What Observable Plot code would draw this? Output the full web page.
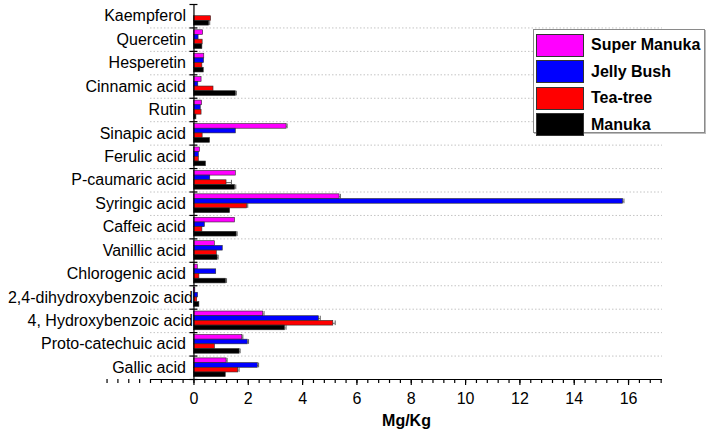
<!DOCTYPE html>
<html>
<head>
<meta charset="utf-8">
<script src="https://cdn.jsdelivr.net/npm/d3@7"></script>
<script src="https://cdn.jsdelivr.net/npm/@observablehq/plot@0.6"></script>
<style>
  body { margin: 0; background: white; font-family: "Liberation Sans", Arial, sans-serif; }
  #wrap { position: relative; width: 709px; height: 433px; }
  g[aria-label="x-axis label"] text { font-weight: bold; }
  #legend { position: absolute; left: 533px; top: 29px; width: 172px; height: 104px;
    border: 1px solid #8a8a8a; background: white; box-sizing: border-box; box-shadow: 1px 1px 0 #bbb; }
  .row { position: absolute; left: 2px; height: 24px; display: flex; align-items: center; }
  .sw { width: 48px; height: 23px; box-sizing: border-box; border: 1px solid #333; margin-right: 7px; }
  .lab { font-weight: bold; font-size: 16px; color: #000; }
</style>
</head>
<body>
<div id="wrap"></div>
<script>
// ---- data ----
const categories = ["Kaempferol", "Quercetin", "Hesperetin", "Cinnamic acid", "Rutin", "Sinapic acid",
  "Ferulic acid", "P-caumaric acid", "Syringic acid", "Caffeic acid", "Vanillic acid", "Chlorogenic acid",
  "2,4-dihydroxybenzoic acid", "4, Hydroxybenzoic acid", "Proto-catechuic acid", "Gallic acid"];
const seriesNames = ["Super Manuka", "Jelly Bush", "Tea-tree", "Manuka"];
const seriesColors = ["#ff00ff", "#0000ff", "#ff0000", "#000000"];
const superManuka = [0, 0.34, 0.38, 0.28, 0.30, 3.41, 0.22, 1.54, 5.36, 1.51, 0.77, 0.14, 0.05, 2.55, 1.78, 1.20];
const jellyBush   = [0, 0.17, 0.37, 0.16, 0.25, 1.54, 0.18, 0.60, 15.8, 0.40, 1.06, 0.82, 0.15, 4.60, 1.98, 2.35];
const teaTree     = [0.63, 0.32, 0.31, 0.72, 0.28, 0.32, 0.18, 1.20, 1.96, 0.31, 0.84, 0.20, 0.12, 5.13, 0.77, 1.63];
const manuka      = [0.56, 0.31, 0.36, 1.54, 0.09, 0.59, 0.44, 1.51, 1.33, 1.57, 0.87, 1.18, 0.20, 3.35, 1.68, 1.17];
const errSuperManuka = [0, 0, 0, 0, 0, 0.02, 0, 0, 0.03, 0, 0, 0, 0, 0.03, 0.02, 0.02];
const errJellyBush   = [0, 0, 0, 0, 0, 0, 0, 0, 0.03, 0, 0, 0, 0, 0.05, 0.03, 0.03];
const errTeaTree     = [0, 0, 0, 0, 0, 0, 0, 0.18, 0.02, 0, 0, 0, 0, 0.07, 0, 0.03];
const errManuka      = [0.02, 0, 0, 0.02, 0, 0, 0, 0.03, 0, 0.02, 0.02, 0.02, 0, 0.04, 0.02, 0];
const xMajorTicks = [0, 2, 4, 6, 8, 10, 12, 14, 16];
const xAxisLabel = "Mg/Kg";

// ---- build table ----
const seriesValues = [superManuka, jellyBush, teaTree, manuka];
const seriesErrs = [errSuperManuka, errJellyBush, errTeaTree, errManuka];
const n = categories.length;
const rows = [];
categories.forEach((c, ci) => {
  seriesNames.forEach((s, si) => {
    const top = n - ci - 0.1 - si * 0.2;
    rows.push({category: c, series: s, value: seriesValues[si][ci], err: seriesErrs[si][ci],
      y2: top, y1: top - 0.2, ymid: top - 0.1});
  });
});
const errRows = rows.filter(d => d.err > 0);
const boundaries = d3.range(0, n + 1);
const minorTicks = d3.range(-8, 44).map(k => k * 0.4);

const chart = Plot.plot({
  width: 709, height: 433,
  marginLeft: 150, marginRight: 47, marginTop: 4, marginBottom: 54,
  style: {fontFamily: "Liberation Sans, Arial, sans-serif", fontSize: "16px", background: "white", color: "black", overflow: "visible"},
  x: {domain: [-1.6, 17.25], axis: null},
  y: {domain: [0, n], axis: null},
  color: {domain: seriesNames, range: seriesColors},
  marks: [
    Plot.ruleY(d3.range(1, n), {stroke: "#c4c4c4", strokeDasharray: "1.5,2", strokeWidth: 1}),
    Plot.rect(rows, {x1: 0, x2: "value", y1: "y1", y2: "y2", fill: "series", stroke: "#2a2a2a", strokeWidth: 0.6}),
    Plot.ruleY(errRows, {x1: "value", x2: d => d.value + d.err, y: "ymid", stroke: "#333", strokeWidth: 0.8}),
    Plot.ruleX(errRows, {x: d => d.value + d.err, y1: "y1", y2: "y2", stroke: "#333", strokeWidth: 0.8}),
    Plot.ruleY([0], {stroke: "black", strokeWidth: 1.2}),
    Plot.ruleX([0], {stroke: "black", strokeWidth: 1.2}),
    Plot.ruleY(boundaries, {x1: 0, x2: 0, insetLeft: -4, insetRight: -4, stroke: "black", strokeWidth: 1.2}),
    Plot.axisX(minorTicks, {anchor: "bottom", tickSize: 4, tickFormat: () => "", label: null, strokeWidth: 1.2}),
    Plot.axisX(xMajorTicks, {anchor: "bottom", tickSize: 6, tickPadding: 7, fontSize: 16, strokeWidth: 1.2,
      label: xAxisLabel, labelAnchor: "center", labelArrow: "none", labelOffset: 46}),
    Plot.text(categories.filter(c => c.length < 22), {x: 0, y: c => n - categories.indexOf(c) - 0.5, text: d => d,
      textAnchor: "end", dx: -8, fontSize: 16, fill: "black"}),
    Plot.text(categories.filter(c => c.length >= 22), {x: 0, y: c => n - categories.indexOf(c) - 0.5, text: d => d,
      textAnchor: "end", dx: -1, fontSize: 16, fill: "black"})
  ]
});
const wrap = document.getElementById("wrap");
wrap.appendChild(chart);

// legend
const legend = document.createElement("div");
legend.id = "legend";
seriesNames.forEach((s, i) => {
  const row = document.createElement("div");
  row.className = "row";
  row.style.top = (3 + i * 26.5) + "px";
  const sw = document.createElement("div");
  sw.className = "sw";
  sw.style.background = seriesColors[i];
  const lab = document.createElement("span");
  lab.className = "lab";
  lab.textContent = s;
  row.appendChild(sw); row.appendChild(lab);
  legend.appendChild(row);
});
wrap.appendChild(legend);
</script>
</body>
</html>
